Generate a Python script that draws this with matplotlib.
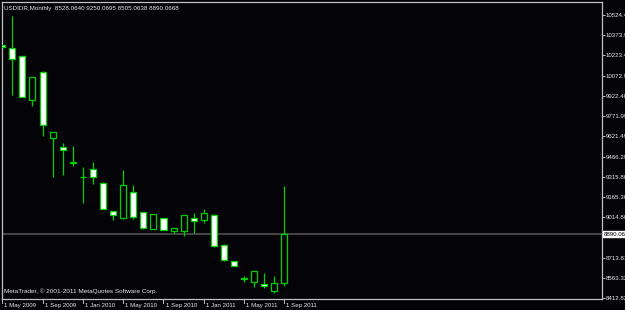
import matplotlib
matplotlib.use('Agg')
import matplotlib.pyplot as plt

plt.rcParams['font.family'] = ['Liberation Sans', 'DejaVu Sans']

# monthly USDIDR candles, May 2009 .. Sep 2011
months = ['May09', 'Jun09', 'Jul09', 'Aug09', 'Sep09', 'Oct09', 'Nov09', 'Dec09',
          'Jan10', 'Feb10', 'Mar10', 'Apr10', 'May10', 'Jun10', 'Jul10', 'Aug10',
          'Sep10', 'Oct10', 'Nov10', 'Dec10', 'Jan11', 'Feb11', 'Mar11', 'Apr11',
          'May11', 'Jun11', 'Jul11', 'Aug11', 'Sep11']
opens = [10300, 10278, 10216, 9888, 10099, 9606, 9537, 9430, 9318, 9373, 9271, 9062,
         9006, 9201, 9052, 8928, 9007, 8910, 8910, 9012, 8995, 9034, 8810, 8689,
         8560, 8534, 8515, 8467, 8528.0640]
highs = [10305, 10519, 10222, 10060, 10109, 9651, 9567, 9547, 9390, 9427, 9275, 9065,
         9368, 9254, 9056, 9037, 9010, 8933, 9030, 9045, 9074, 9036, 8812, 8691,
         8577, 8614, 8597, 8577, 9250.0695]
lows = [10280, 9927, 9912, 9845, 9621, 9318, 9330, 9400, 9124, 9263, 9075, 8995,
        9004, 9002, 8928, 8925, 8918, 8900, 8877, 8895, 8970, 8796, 8692, 8649,
        8534, 8497, 8485, 8452, 8505.0638]
closes = [10285, 10196, 9915, 10060, 9701, 9651, 9517, 9422, 9313, 9318, 9079, 9032,
          9254, 9015, 8933, 9037, 8920, 8933, 9030, 8987, 9047, 8798, 8694, 8651,
          8555, 8614, 8500, 8526, 8890.0668]

ytick_vals = [10524.4, 10373.9, 10223.4, 10072.9, 9922.48, 9771.99, 9621.49, 9466.29,
              9315.80, 9165.30, 9014.80, 8864.31, 8713.81, 8563.32, 8412.82]
ytick_labels = ['10524.4', '10373.9', '10223.4', '10072.9', '9922.48', '9771.99', '9621.49',
                '9466.29', '9315.80', '9165.30', '9014.80', '8864.31', '8713.81', '8563.32',
                '8412.82']
xtick_idx = [0, 4, 8, 12, 16, 20, 24, 28]
xtick_labels = ['1 May 2009', '1 Sep 2009', '1 Jan 2010', '1 May 2010', '1 Sep 2010',
                '1 Jan 2011', '1 May 2011', '1 Sep 2011']

green = '#00d000'
grey = '#c0c0c0'
txt = '#e8e8e8'
bg = '#040408'

fig = plt.figure(figsize=(6.25, 3.10), dpi=100, facecolor=bg)
ax = fig.add_axes([2 / 625, 1 - 299 / 310, 600 / 625, 297 / 310], facecolor=bg)

x = list(range(len(months)))
ax.vlines(x, lows, highs, color=green, linewidth=0.9, zorder=2)

# bearish bodies white, bullish bodies hollow (black)
for i in x:
    o, c = opens[i], closes[i]
    fill = 'white' if c < o else bg
    ax.bar(i, abs(c - o), bottom=min(o, c), width=0.6, color=fill,
           edgecolor=green, linewidth=0.9, zorder=3)

# last close line
ax.axhline(closes[-1], color='#4a4a4a', linewidth=1.3, zorder=1)

ax.set_xlim(-0.02, 59.5)
ax.set_ylim(8405.2, 10621.4)

for s in ax.spines.values():
    s.set_color(grey)
    s.set_linewidth(0.9)

ax.yaxis.tick_right()
ax.set_yticks(ytick_vals)
ax.set_yticklabels(ytick_labels)
ax.tick_params(axis='y', colors=grey, labelcolor=txt, labelsize=4.4, length=2, width=0.7, pad=0.8)
ax.set_xticks([])

# date labels along the bottom edge
for i, lab in zip(xtick_idx, xtick_labels):
    ax.plot([i, i], [0, -0.014], transform=ax.get_xaxis_transform(), color=grey,
            linewidth=0.7, clip_on=False)
    ax.text(i + 0.2, -0.021, lab, transform=ax.get_xaxis_transform(), color=txt,
            fontsize=4.4, ha='left', va='center', clip_on=False)

# current price marker over the hidden tick label (MT4 truncates to 2 decimals)
last_lab = '%.2f' % (int(closes[-1] * 100) / 100)
ax.text(1.003, closes[-1], last_lab, transform=ax.get_yaxis_transform(),
        color='black', fontsize=4.4, ha='left', va='center', clip_on=False,
        bbox=dict(boxstyle='square,pad=0.08', facecolor='white', edgecolor='white'))
ax.get_yticklabels()[11].set_visible(False)

ax.text(0.004, 0.985, 'USDIDR,Monthly  8528.0640 9250.0695 8505.0638 8890.0668',
        transform=ax.transAxes, color=txt, fontsize=4.5, ha='left', va='top')
ax.text(0.004, 0.018, 'MetaTrader, \u00a9 2001-2011 MetaQuotes Software Corp.',
        transform=ax.transAxes, color=txt, fontsize=4.6, ha='left', va='bottom')

fig.savefig('out.png', dpi=100, facecolor=fig.get_facecolor())
